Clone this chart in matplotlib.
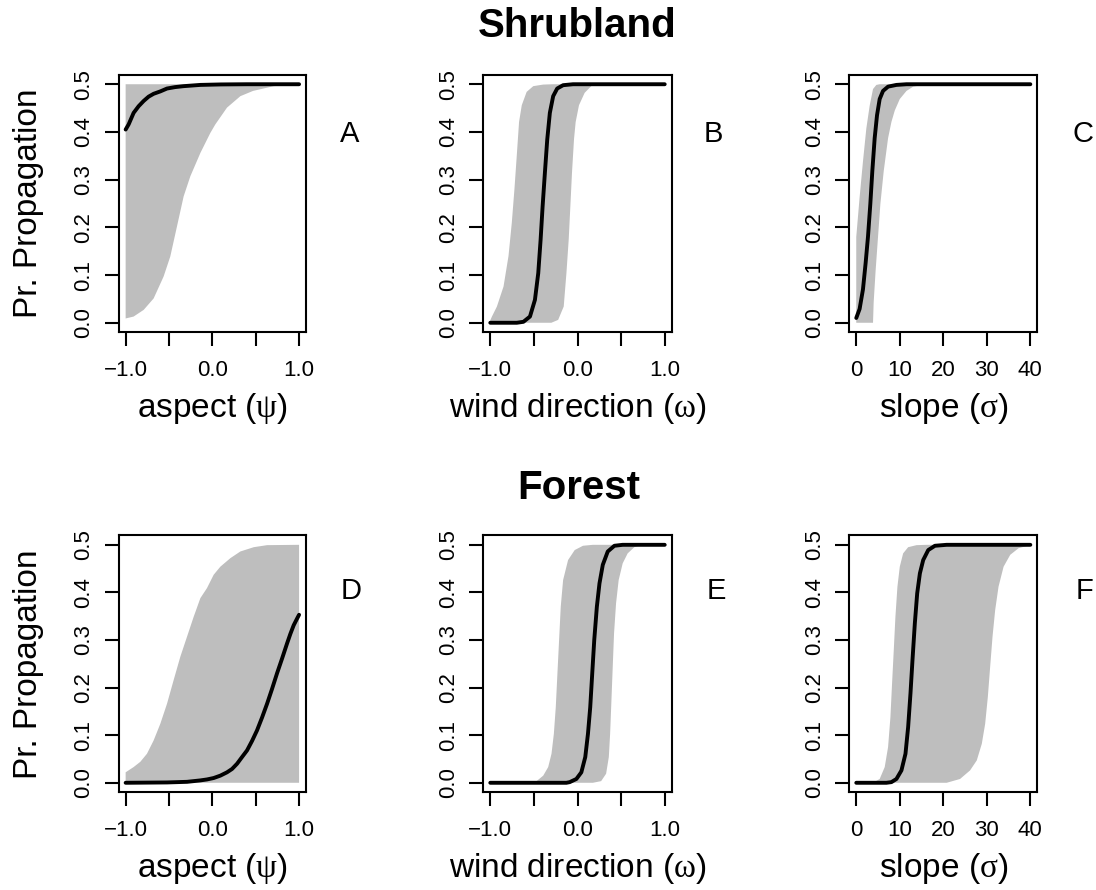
import matplotlib
matplotlib.use("Agg")
import matplotlib.pyplot as plt

plt.rcParams['font.family'] = ['Liberation Sans', 'DejaVu Sans']
plt.rcParams['mathtext.fontset'] = 'custom'
plt.rcParams['mathtext.rm'] = 'Liberation Serif'
plt.rcParams['mathtext.it'] = 'Liberation Serif'

# ---------------- data ----------------
row_titles = ["Shrubland", "Forest"]
panel_letters = ["A", "B", "C", "D", "E", "F"]
x_labels = ["aspect ($\\mathrm{\\psi}$)", "wind direction ($\\mathrm{\\omega}$)",
            "slope ($\\mathrm{\\sigma}$)"]
y_label = "Pr. Propagation"
y_ticks = [0.0, 0.1, 0.2, 0.3, 0.4, 0.5]
y_tick_labels = ["0.0", "0.1", "0.2", "0.3", "0.4", "0.5"]
unit_ticks = [-1.0, -0.5, 0.0, 0.5, 1.0]
unit_tick_labels = ["\u22121.0", "", "0.0", "", "1.0"]
slope_ticks = [0, 10, 20, 30, 40]
slope_tick_labels = ["0", "10", "20", "30", "40"]

# Panel A (shrubland, aspect)
a_up_x = [-1.0, 1.0]
a_up_y = [0.5, 0.5]
a_lo_x = [-1.0, -0.908, -0.792, -0.677, -0.562, -0.485, -0.408, -0.331, -0.254,
          -0.138, -0.023, 0.035, 0.169, 0.323, 0.469, 0.708, 1.0]
a_lo_y = [0.009, 0.013, 0.027, 0.051, 0.097, 0.139, 0.202, 0.265, 0.307,
          0.356, 0.398, 0.416, 0.451, 0.475, 0.486, 0.496, 0.5]
a_cv_x = [-1.0, -0.965, -0.908, -0.85, -0.792, -0.735, -0.677, -0.6, -0.523,
          -0.43, -0.331, -0.138, 0.1, 0.4, 1.0]
a_cv_y = [0.405, 0.416, 0.440, 0.454, 0.465, 0.474, 0.480, 0.485, 0.491,
          0.494, 0.496, 0.4986, 0.4996, 0.5, 0.5]

# Panel B (shrubland, wind direction)
b_up_x = [-1.0, -0.981, -0.924, -0.848, -0.791, -0.753, -0.723, -0.696, -0.670,
          -0.639, -0.583, -0.507, -0.393, -0.279, 1.0]
b_up_y = [0.005, 0.013, 0.034, 0.076, 0.140, 0.210, 0.280, 0.351, 0.421,
          0.456, 0.484, 0.496, 0.4993, 0.5, 0.5]
b_lo_x = [-1.0, -0.3, -0.222, -0.158, -0.127, -0.101, -0.082, -0.063, -0.040,
          -0.021, 0.017, 0.082, 0.157, 0.195, 1.0]
b_lo_y = [0.0, 0.0, 0.006, 0.034, 0.104, 0.174, 0.244, 0.315, 0.385,
          0.421, 0.456, 0.482, 0.496, 0.5, 0.5]
b_cv_x = [-1.0, -0.696, -0.620, -0.545, -0.488, -0.450, -0.423, -0.400, -0.374,
          -0.347, -0.317, -0.279, -0.233, -0.165, -0.051, 1.0]
b_cv_y = [0.0, 0.0, 0.002, 0.013, 0.048, 0.104, 0.174, 0.244, 0.314,
          0.384, 0.440, 0.475, 0.491, 0.498, 0.5, 0.5]

# Panel C (shrubland, slope)
c_up_x = [0.0, 0.0, 0.77, 1.54, 2.31, 3.08, 3.85, 4.62, 5.38, 40.0]
c_up_y = [0.0, 0.18, 0.263, 0.338, 0.407, 0.455, 0.49, 0.4986, 0.5, 0.5]
c_lo_x = [0.0, 3.85, 4.0, 4.46, 5.0, 5.54, 6.31, 7.31, 8.08, 8.85, 10.0,
          11.54, 13.08, 15.38, 17.69, 40.0]
c_lo_y = [0.0, 0.0, 0.043, 0.111, 0.180, 0.249, 0.318, 0.387, 0.421, 0.445, 0.469,
          0.486, 0.495, 0.4986, 0.5, 0.5]
c_cv_x = [0.0, 0.77, 1.54, 2.15, 2.69, 3.23, 3.69, 4.23, 4.77, 5.38, 6.15,
          7.31, 9.23, 11.54, 40.0]
c_cv_y = [0.01, 0.029, 0.070, 0.125, 0.180, 0.249, 0.318, 0.387, 0.435, 0.469, 0.486,
          0.495, 0.4986, 0.5, 0.5]

# Panel D (forest, aspect)
d_up_x = [-1.0, -0.908, -0.831, -0.754, -0.677, -0.6, -0.523, -0.446, -0.369, -0.292,
          -0.215, -0.138, -0.062, 0.015, 0.092, 0.208, 0.323, 0.477, 0.631, 1.0]
d_up_y = [0.022, 0.033, 0.044, 0.061, 0.089, 0.124, 0.166, 0.216, 0.265, 0.307,
          0.349, 0.388, 0.409, 0.437, 0.454, 0.472, 0.486, 0.495, 0.4993, 0.5]
d_lo_x = [-1.0, 1.0]
d_lo_y = [0.0, 0.0]
d_cv_x = [-1.0, -0.523, -0.292, -0.138, -0.062, 0.015, 0.092, 0.169, 0.227, 0.285,
          0.342, 0.4, 0.458, 0.515, 0.573, 0.631, 0.688, 0.746, 0.804, 0.862,
          0.9, 0.938, 0.977, 1.0]
d_cv_y = [0.0, 0.0007, 0.002, 0.005, 0.007, 0.010, 0.015, 0.022, 0.029, 0.040,
          0.054, 0.068, 0.088, 0.110, 0.137, 0.166, 0.197, 0.230, 0.261, 0.293,
          0.313, 0.331, 0.345, 0.353]

# Panel E (forest, wind direction)
e_up_x = [-1.0, -0.545, -0.469, -0.393, -0.336, -0.298, -0.271, -0.249, -0.230,
          -0.211, -0.192, -0.165, -0.108, -0.032, 0.063, 0.176, 1.0]
e_up_y = [0.0, 0.0, 0.0035, 0.015, 0.033, 0.061, 0.103, 0.159, 0.230,
          0.300, 0.370, 0.426, 0.468, 0.489, 0.498, 0.5, 0.5]
e_lo_x = [-1.0, 0.176, 0.271, 0.328, 0.359, 0.374, 0.389, 0.404, 0.419,
          0.442, 0.472, 0.518, 0.575, 0.651, 0.727, 0.822, 1.0]
e_lo_y = [0.0, 0.0, 0.0035, 0.019, 0.054, 0.103, 0.173, 0.244, 0.314,
          0.377, 0.426, 0.461, 0.482, 0.495, 0.4993, 0.5, 0.5]
e_cv_x = [-1.0, -0.127, -0.089, -0.013, 0.044, 0.089, 0.120, 0.146, 0.169,
          0.192, 0.222, 0.252, 0.290, 0.347, 0.423, 0.518, 1.0]
e_cv_y = [0.0, 0.0, 0.0014, 0.008, 0.022, 0.054, 0.103, 0.159, 0.230,
          0.300, 0.370, 0.419, 0.458, 0.486, 0.498, 0.5, 0.5]

# Panel F (forest, slope)
f_up_x = [0.0, 3.85, 5.38, 6.54, 7.31, 7.85, 8.23, 8.62, 9.0, 9.46, 10.0,
          10.77, 11.92, 13.85, 16.15, 40.0]
f_up_y = [0.0, 0.0, 0.008, 0.033, 0.075, 0.138, 0.209, 0.279, 0.349, 0.412, 0.454,
          0.482, 0.495, 0.4993, 0.5, 0.5]
f_lo_x = [0.0, 20.77, 23.85, 26.15, 27.69, 28.85, 29.62, 30.23, 30.77, 31.31, 31.92,
          32.69, 33.85, 35.38, 37.31, 40.0]
f_lo_y = [0.0, 0.0, 0.008, 0.026, 0.047, 0.082, 0.124, 0.180, 0.244, 0.307, 0.363,
          0.412, 0.454, 0.479, 0.493, 0.4993]
f_cv_x = [0.0, 6.92, 8.08, 9.23, 10.38, 11.31, 11.92, 12.46, 12.92, 13.46, 14.0,
          14.62, 15.38, 16.54, 18.08, 20.77, 40.0]
f_cv_y = [0.0, 0.0, 0.0014, 0.008, 0.026, 0.061, 0.117, 0.188, 0.258, 0.335, 0.398,
          0.440, 0.468, 0.489, 0.498, 0.5, 0.5]

panels = [
    (a_up_x, a_up_y, a_lo_x, a_lo_y, a_cv_x, a_cv_y),
    (b_up_x, b_up_y, b_lo_x, b_lo_y, b_cv_x, b_cv_y),
    (c_up_x, c_up_y, c_lo_x, c_lo_y, c_cv_x, c_cv_y),
    (d_up_x, d_up_y, d_lo_x, d_lo_y, d_cv_x, d_cv_y),
    (e_up_x, e_up_y, e_lo_x, e_lo_y, e_cv_x, e_cv_y),
    (f_up_x, f_up_y, f_lo_x, f_lo_y, f_cv_x, f_cv_y),
]

# ---------------- layout ----------------
W, H = 1096, 890
fig = plt.figure(figsize=(W / 100, H / 100), dpi=100)

col_left = [118.7, 483.3, 849.3]
col_width = [187.3, 188.4, 188.0]
row_top = [74.7, 535.3]
row_bottom = [332.3, 792.3]
letter_left = [[340, 704, 1073], [341, 707, 1076]]
letter_base = [142, 599]
title_center_x = [577, 579]
title_base = [37, 499]

band_color = "#bebebe"

for i, (ux, uy, lx, ly, cx, cy) in enumerate(panels):
    r, c = divmod(i, 3)
    l = col_left[c]
    w = col_width[c]
    t = row_top[r]
    b = row_bottom[r]
    ax = fig.add_axes([l / W, 1 - b / H, w / W, (b - t) / H])
    poly_x = list(ux) + list(lx)[::-1]
    poly_y = list(uy) + list(ly)[::-1]
    ax.fill(poly_x, poly_y, color=band_color, lw=0, zorder=1)
    ax.plot(cx, cy, color="black", lw=2.8, solid_capstyle="round",
            solid_joinstyle="round", zorder=3)
    if c == 2:
        ax.set_xlim(-1.6, 41.6)
        ax.set_xticks(slope_ticks)
        ax.set_xticklabels(slope_tick_labels)
    else:
        ax.set_xlim(-1.08, 1.08)
        ax.set_xticks(unit_ticks)
        ax.set_xticklabels(unit_tick_labels)
    ax.set_ylim(-0.02, 0.52)
    ax.set_yticks(y_ticks)
    ax.set_yticklabels(y_tick_labels, rotation=90, va="center")
    for sp in ax.spines.values():
        sp.set_linewidth(1.5)
    ax.tick_params(axis="both", direction="out", length=10, width=1.5,
                   labelsize=16, color="black")
    ax.tick_params(axis="x", pad=10)
    ax.tick_params(axis="y", pad=7.5)
    # x axis label
    fig.text((l + w / 2) / W, 1 - (b + 85) / H, x_labels[c], ha="center",
             va="baseline", fontsize=24)
    # panel letter
    fig.text(letter_left[r][c] / W, 1 - letter_base[r] / H, panel_letters[i],
             ha="left", va="baseline", fontsize=21)
    if c == 0:
        fig.text(29 / W, 1 - ((t + b) / 2) / H, y_label, rotation=90,
                 ha="center", va="center", fontsize=24)

for r in range(2):
    fig.text(title_center_x[r] / W, 1 - title_base[r] / H, row_titles[r],
             ha="center", va="baseline", fontsize=29, fontweight="bold")

fig.savefig("out.png", dpi=100)
